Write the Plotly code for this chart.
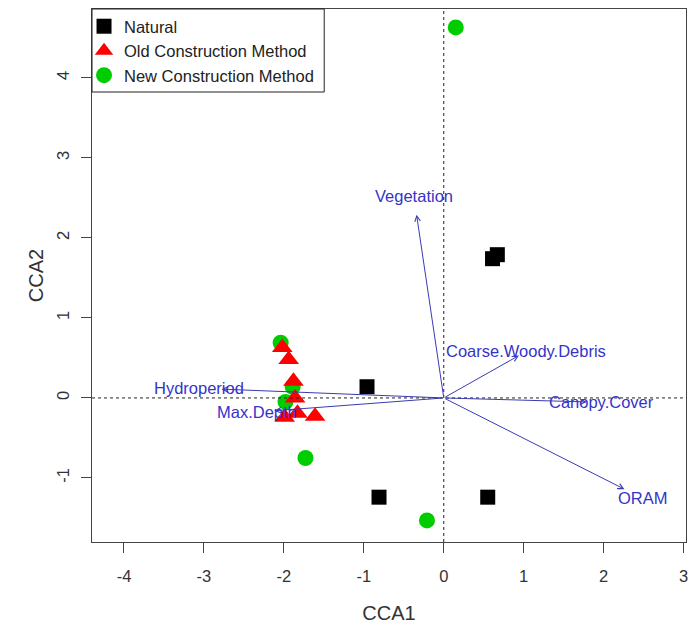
import plotly.graph_objects as go

# Site scores on the first two CCA axes
natural_x = [0.61, 0.67, -0.96, -0.81, 0.55]
natural_y = [1.74, 1.79, 0.14, -1.24, -1.24]

old_x = [-2.02, -1.94, -1.88, -1.86, -1.83, -1.99, -1.61]
old_y = [0.63, 0.48, 0.21, 0.00, -0.19, -0.24, -0.23]

new_x = [0.15, -0.21, -1.73, -2.04, -1.89, -1.98]
new_y = [4.63, -1.53, -0.75, 0.69, 0.14, -0.05]

# Environmental variable biplot arrows (tips)
env_names = ["Vegetation", "Coarse.Woody.Debris", "Canopy.Cover", "ORAM",
             "Hydroperiod", "Max.Depth"]
env_x = [-0.34, 0.94, 1.79, 2.26, -2.78, -2.12]
env_y = [2.29, 0.53, -0.05, -1.14, 0.11, -0.16]
label_mul = 1.1

x_ticks = [-4, -3, -2, -1, 0, 1, 2, 3]
x_ticktext = ["-4", "-3", "-2", "-1", "0", "1", "2", "3"]
y_ticks = [-1, 0, 1, 2, 3, 4]
y_ticktext = ["-1", "0", "1", "2", "3", "4"]

FONT = "Liberation Sans, Arial, sans-serif"
ARROW_COL = "#3a3ab4"
TEXT_COL = "#3434c8"

fig = go.Figure()

fig.add_trace(go.Scatter(
    x=natural_x, y=natural_y, mode="markers", name="Natural", legendrank=1,
    marker=dict(symbol="square", size=15, color="black")))
fig.add_trace(go.Scatter(
    x=new_x, y=new_y, mode="markers", name="New Construction Method", legendrank=3,
    marker=dict(symbol="circle", size=16, color="#00cd00")))
fig.add_trace(go.Scatter(
    x=old_x, y=old_y, mode="markers", name="Old Construction Method", legendrank=2,
    marker=dict(symbol="triangle-up", size=18, color="red")))

# Dotted zero reference lines
fig.add_shape(type="line", xref="x", yref="paper", x0=0, x1=0, y0=0, y1=1,
              line=dict(color="#222", width=1, dash="dot"), layer="above")
fig.add_shape(type="line", xref="paper", yref="y", x0=0, x1=1, y0=0, y1=0,
              line=dict(color="#222", width=1, dash="dot"), layer="above")

# Legend frame
fig.add_shape(type="rect", xref="paper", yref="paper",
              x0=0, x1=233 / 596, y0=1 - 83 / 533, y1=1,
              line=dict(color="#222", width=1), fillcolor="white", layer="above")

annotations = []
for name, ex, ey in zip(env_names, env_x, env_y):
    annotations.append(dict(
        x=ex, y=ey, ax=0, ay=0, xref="x", yref="y", axref="x", ayref="y",
        showarrow=True, arrowhead=5, arrowsize=1.1, arrowwidth=1,
        arrowcolor=ARROW_COL, standoff=0, startstandoff=0, text=""))
    annotations.append(dict(
        x=ex * label_mul, y=ey * label_mul, xref="x", yref="y", text=name,
        showarrow=False, xanchor="center", yanchor="middle",
        font=dict(family=FONT, size=16.5, color=TEXT_COL)))

fig.update_layout(
    width=690, height=630,
    margin=dict(l=92, r=2, t=9, b=88),
    paper_bgcolor="white", plot_bgcolor="white",
    font=dict(family=FONT, size=16.5, color="#333"),
    showlegend=True,
    legend=dict(x=-8 / 596, y=1, xanchor="left", yanchor="top",
                bgcolor="rgba(0,0,0,0)", borderwidth=0,
                font=dict(family=FONT, size=16.5, color="#222"),
                tracegroupgap=0, itemwidth=30),
    annotations=annotations,
    xaxis=dict(range=[-4.40, 3.03], tickvals=x_ticks, ticktext=x_ticktext,
               ticks="outside", ticklen=10, ticklabeloverflow="allow",
               tickcolor="#444", showline=True, linecolor="#444", linewidth=1,
               mirror=True, showgrid=False, zeroline=False,
               ticklabelstandoff=9,
               title=dict(text="CCA1", standoff=22)),
    yaxis=dict(range=[-1.80, 4.86], tickvals=y_ticks, ticktext=y_ticktext,
               ticks="outside", ticklen=10, ticklabeloverflow="allow",
               tickcolor="#444", showline=True, linecolor="#444", linewidth=1,
               mirror=True, showgrid=False, zeroline=False, tickangle=-90,
               ticklabelstandoff=5,
               title=dict(text="CCA2", standoff=5)),
)

fig.write_html("out.html")
